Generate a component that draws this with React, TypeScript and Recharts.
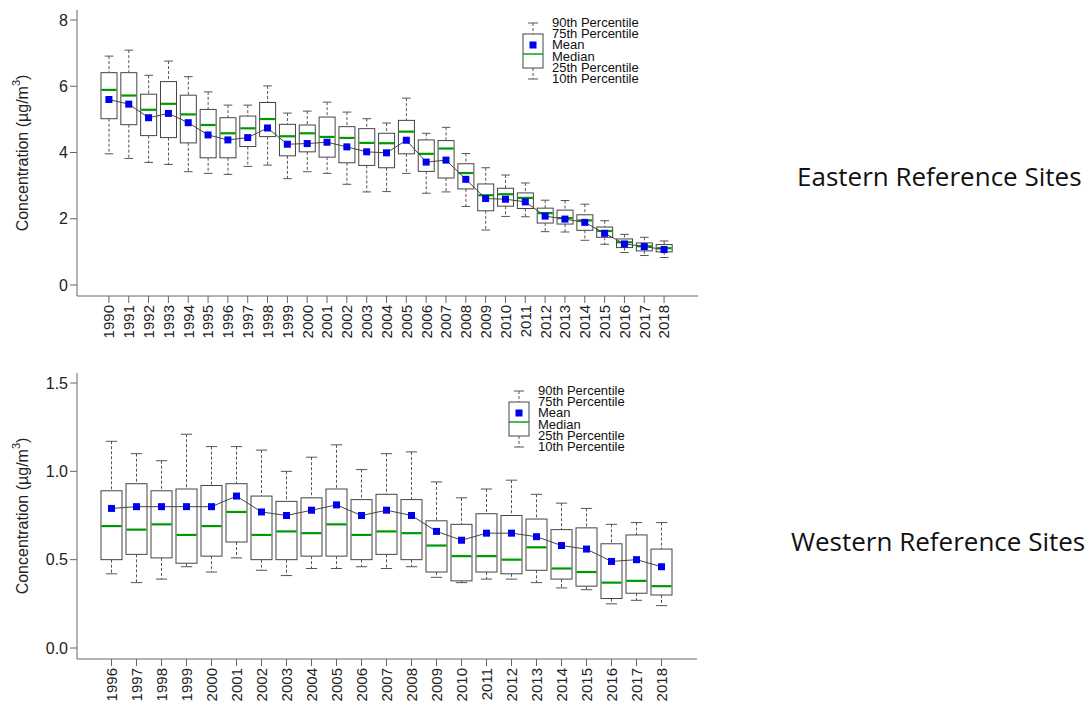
import React from 'react';
import { ComposedChart, Bar, Line, XAxis, YAxis } from 'recharts';

// Eastern reference sites, 1990-2018 (ug/m3)
const EAST_YEARS = ['1990', '1991', '1992', '1993', '1994', '1995', '1996', '1997', '1998', '1999', '2000', '2001', '2002', '2003', '2004', '2005', '2006', '2007', '2008', '2009', '2010', '2011', '2012', '2013', '2014', '2015', '2016', '2017', '2018'];
const EAST_P90 = [6.91, 7.09, 6.33, 6.76, 6.29, 5.83, 5.43, 5.43, 6.01, 5.19, 5.25, 5.52, 5.22, 5.02, 4.89, 5.64, 4.58, 4.76, 3.97, 3.54, 3.32, 3.08, 2.56, 2.55, 2.44, 1.94, 1.53, 1.44, 1.33];
const EAST_P75 = [6.41, 6.41, 5.76, 6.14, 5.73, 5.30, 5.05, 5.10, 5.51, 4.85, 4.83, 5.07, 4.78, 4.72, 4.58, 4.97, 4.38, 4.36, 3.66, 3.05, 2.92, 2.78, 2.32, 2.26, 2.12, 1.75, 1.39, 1.27, 1.22];
const EAST_MEDIAN = [5.89, 5.72, 5.29, 5.47, 5.15, 4.83, 4.58, 4.73, 5.01, 4.49, 4.58, 4.47, 4.44, 4.29, 4.28, 4.63, 3.96, 4.12, 3.38, 2.71, 2.74, 2.63, 2.17, 2.02, 1.95, 1.63, 1.29, 1.17, 1.11];
const EAST_MEAN = [5.60, 5.46, 5.05, 5.18, 4.90, 4.53, 4.38, 4.45, 4.74, 4.25, 4.27, 4.31, 4.17, 4.02, 3.99, 4.37, 3.71, 3.77, 3.19, 2.61, 2.59, 2.51, 2.08, 1.99, 1.89, 1.56, 1.24, 1.16, 1.07];
const EAST_P25 = [5.02, 4.84, 4.51, 4.45, 4.29, 3.84, 3.84, 4.18, 4.48, 3.90, 4.02, 3.86, 3.69, 3.61, 3.54, 3.96, 3.43, 3.23, 2.90, 2.24, 2.38, 2.31, 1.87, 1.84, 1.65, 1.44, 1.13, 1.03, 1.00];
const EAST_P10 = [3.96, 3.82, 3.70, 3.64, 3.42, 3.37, 3.34, 3.58, 3.62, 3.21, 3.42, 3.37, 3.04, 2.81, 2.82, 3.37, 2.77, 2.81, 2.37, 1.66, 2.07, 2.06, 1.61, 1.60, 1.35, 1.23, 0.98, 0.89, 0.83];
const EAST_TICKS = [0, 2, 4, 6, 8];

// Western reference sites, 1996-2018
const WEST_YEARS = ['1996', '1997', '1998', '1999', '2000', '2001', '2002', '2003', '2004', '2005', '2006', '2007', '2008', '2009', '2010', '2011', '2012', '2013', '2014', '2015', '2016', '2017', '2018'];
const WEST_P90 = [1.17, 1.10, 1.06, 1.21, 1.14, 1.14, 1.12, 1.00, 1.08, 1.15, 1.01, 1.10, 1.11, 0.94, 0.85, 0.90, 0.95, 0.87, 0.82, 0.79, 0.70, 0.71, 0.71];
const WEST_P75 = [0.89, 0.93, 0.89, 0.90, 0.92, 0.93, 0.86, 0.83, 0.85, 0.90, 0.84, 0.87, 0.84, 0.72, 0.70, 0.76, 0.75, 0.73, 0.67, 0.68, 0.59, 0.64, 0.56];
const WEST_MEDIAN = [0.69, 0.67, 0.70, 0.64, 0.69, 0.77, 0.64, 0.66, 0.65, 0.70, 0.64, 0.66, 0.65, 0.58, 0.52, 0.52, 0.50, 0.57, 0.45, 0.43, 0.37, 0.38, 0.35];
const WEST_MEAN = [0.79, 0.80, 0.80, 0.80, 0.80, 0.86, 0.77, 0.75, 0.78, 0.81, 0.75, 0.78, 0.75, 0.66, 0.61, 0.65, 0.65, 0.63, 0.58, 0.56, 0.49, 0.50, 0.46];
const WEST_P25 = [0.50, 0.53, 0.51, 0.48, 0.52, 0.60, 0.50, 0.50, 0.52, 0.52, 0.50, 0.53, 0.50, 0.43, 0.38, 0.43, 0.42, 0.44, 0.39, 0.35, 0.28, 0.31, 0.30];
const WEST_P10 = [0.42, 0.37, 0.39, 0.46, 0.43, 0.51, 0.44, 0.41, 0.45, 0.45, 0.46, 0.45, 0.46, 0.40, 0.37, 0.39, 0.39, 0.37, 0.34, 0.33, 0.25, 0.27, 0.24];
const WEST_TICKS = [0, 0.5, 1.0, 1.5];

const LEGEND_LABELS = ['90th Percentile', '75th Percentile', 'Mean', 'Median', '25th Percentile', '10th Percentile'];

const FONT = '"Liberation Sans", Arial, sans-serif';
const FRAME = '#666';
const BOX = '#444';
const WHISKER = '#555';
const MEDIAN = '#009a00';
const MEAN = '#0000ee';

const buildRows = (years: string[], p10: number[], p25: number[], median: number[], mean: number[], p75: number[], p90: number[]) =>
  years.map((year, i) => ({ year, p10: p10[i], p25: p25[i], median: median[i], mean: mean[i], p75: p75[i], p90: p90[i] }));

// draws the whole box from the bar's own geometry (bar spans p10..p90)
const BoxShape = (props: any) => {
  const { x, y, width, height, payload } = props;
  if (!payload) return null;
  const top = Math.min(y, y + height);
  const h = Math.abs(height);
  const ppu = h / (payload.p90 - payload.p10);
  const py = (v: number) => top + (payload.p90 - v) * ppu;
  const cx = x + width / 2;
  const capHalf = width * 0.27;
  return (
    <g>
      <line x1={cx} x2={cx} y1={py(payload.p90)} y2={py(payload.p75)} stroke={WHISKER} strokeDasharray="3 2" />
      <line x1={cx} x2={cx} y1={py(payload.p25)} y2={py(payload.p10)} stroke={WHISKER} strokeDasharray="3 2" />
      <line x1={cx - capHalf} x2={cx + capHalf} y1={py(payload.p90)} y2={py(payload.p90)} stroke={WHISKER} />
      <line x1={cx - capHalf} x2={cx + capHalf} y1={py(payload.p10)} y2={py(payload.p10)} stroke={WHISKER} />
      <rect x={x} y={py(payload.p75)} width={width} height={py(payload.p25) - py(payload.p75)} fill="#fff" stroke={BOX} strokeWidth={1} />
      <line x1={x + 0.5} x2={x + width - 0.5} y1={py(payload.median)} y2={py(payload.median)} stroke={MEDIAN} strokeWidth={2.2} />
    </g>
  );
};

const MeanDot = (props: any) => {
  const { cx, cy } = props;
  if (cx == null || cy == null) return null;
  return <rect x={cx - 3.5} y={cy - 3.5} width={7} height={7} fill={MEAN} />;
};

const YearTick = (props: any) => {
  const { x, y, payload } = props;
  return (
    <text x={x} y={y} transform={`rotate(-90 ${x} ${y})`} textAnchor="end" dy="0.36em" fontSize={15} fontFamily={FONT} fill="#222">
      {payload.value}
    </text>
  );
};

const YLabel = (props: any) => {
  const vb = props.viewBox || {};
  const cx = vb.x + 22;
  const cy = vb.y + vb.height / 2;
  return (
    <text x={cx} y={cy} transform={`rotate(-90 ${cx} ${cy})`} textAnchor="middle" dominantBaseline="central" fontSize={16} fontFamily={FONT} fill="#222">
      Concentration (µg/m<tspan dy={-6} fontSize={11}>3</tspan><tspan dy={6}>)</tspan>
    </text>
  );
};

function BoxPanel({ rows, width, height, margin, xHeight, barSize, pad, ticks, fmt }: any) {
  return (
    <ComposedChart width={width} height={height} data={rows} margin={margin}>
      <XAxis
        dataKey="year"
        height={xHeight}
        interval={0}
        padding={pad}
        tick={<YearTick />}
        tickSize={7}
        tickMargin={2}
        stroke={FRAME}
        axisLine={{ stroke: FRAME }}
        tickLine={{ stroke: FRAME }}
      />
      <XAxis xAxisId="top" orientation="top" dataKey="year" height={0} tick={false} tickLine={false} axisLine={{ stroke: FRAME }} />
      <YAxis
        width={77}
        domain={[ticks[0], ticks[ticks.length - 1]]}
        ticks={ticks}
        padding={{ top: 10, bottom: 11 }}
        tickFormatter={fmt}
        tickSize={7}
        tickMargin={2}
        tick={{ fontSize: 16, fontFamily: FONT, fill: '#222' }}
        axisLine={{ stroke: FRAME }}
        tickLine={{ stroke: FRAME }}
        label={<YLabel />}
      />
      <YAxis yAxisId="right" orientation="right" width={0} tick={false} tickLine={false} axisLine={{ stroke: FRAME }} />
      <Bar dataKey={(d: any) => [d.p10, d.p90]} barSize={barSize} shape={<BoxShape />} isAnimationActive={false} />
      <Line dataKey="mean" stroke="#444" strokeWidth={1} dot={<MeanDot />} activeDot={false} isAnimationActive={false} />
    </ComposedChart>
  );
}

function BoxLegend({ x, y }: { x: number; y: number }) {
  // x = left of the box symbol, y = top cap of the symbol
  const cx = x + 10;
  return (
    <g>
      <line x1={cx - 5} x2={cx + 5} y1={y} y2={y} stroke={WHISKER} />
      <line x1={cx} x2={cx} y1={y} y2={y + 11} stroke={WHISKER} strokeDasharray="3 2" />
      <rect x={x} y={y + 11} width={20} height={34} fill="#fff" stroke={BOX} />
      <rect x={cx - 3.5} y={y + 18.5} width={7} height={7} fill={MEAN} />
      <line x1={x} x2={x + 20} y1={y + 31} y2={y + 31} stroke={MEDIAN} strokeWidth={1.4} />
      <line x1={cx} x2={cx} y1={y + 45} y2={y + 56} stroke={WHISKER} strokeDasharray="3 2" />
      <line x1={cx - 5} x2={cx + 5} y1={y + 56} y2={y + 56} stroke={WHISKER} />
      {LEGEND_LABELS.map((t, i) => (
        <text key={t} x={x + 29} y={y + 4 + i * 11.2} fontSize={13} fontFamily={FONT} fill="#111">
          {t}
        </text>
      ))}
    </g>
  );
}

export default function App() {
  const east = buildRows(EAST_YEARS, EAST_P10, EAST_P25, EAST_MEDIAN, EAST_MEAN, EAST_P75, EAST_P90);
  const west = buildRows(WEST_YEARS, WEST_P10, WEST_P25, WEST_MEDIAN, WEST_MEAN, WEST_P75, WEST_P90);
  return (
    <div style={{ position: 'absolute', left: 0, top: 0, width: 1092, height: 705, background: '#fff', overflow: 'hidden' }}>
      <div style={{ position: 'absolute', left: 0, top: 0 }}>
        <BoxPanel
          rows={east}
          width={720}
          height={350}
          margin={{ top: 10, right: 22, left: 0, bottom: 4 }}
          xHeight={50}
          barSize={16}
          pad={{ left: 22, right: 24 }}
          ticks={EAST_TICKS}
          fmt={(v: number) => String(v)}
        />
      </div>
      <div style={{ position: 'absolute', left: 0, top: 360 }}>
        <BoxPanel
          rows={west}
          width={720}
          height={345}
          margin={{ top: 13, right: 23, left: 0, bottom: 0 }}
          xHeight={46}
          barSize={21}
          pad={{ left: 22, right: 23 }}
          ticks={WEST_TICKS}
          fmt={(v: number) => v.toFixed(1)}
        />
      </div>
      <svg width={1092} height={705} style={{ position: 'absolute', left: 0, top: 0, pointerEvents: 'none' }}>
        <BoxLegend x={523} y={23} />
        <BoxLegend x={509} y={391} />
        <text x={797} y={186} fontSize={26} fontFamily='"Open Sans", "Noto Sans", sans-serif' fill="#111">Eastern Reference Sites</text>
        <text x={791} y={551} fontSize={26} fontFamily='"Open Sans", "Noto Sans", sans-serif' fill="#111">Western Reference Sites</text>
      </svg>
    </div>
  );
}
